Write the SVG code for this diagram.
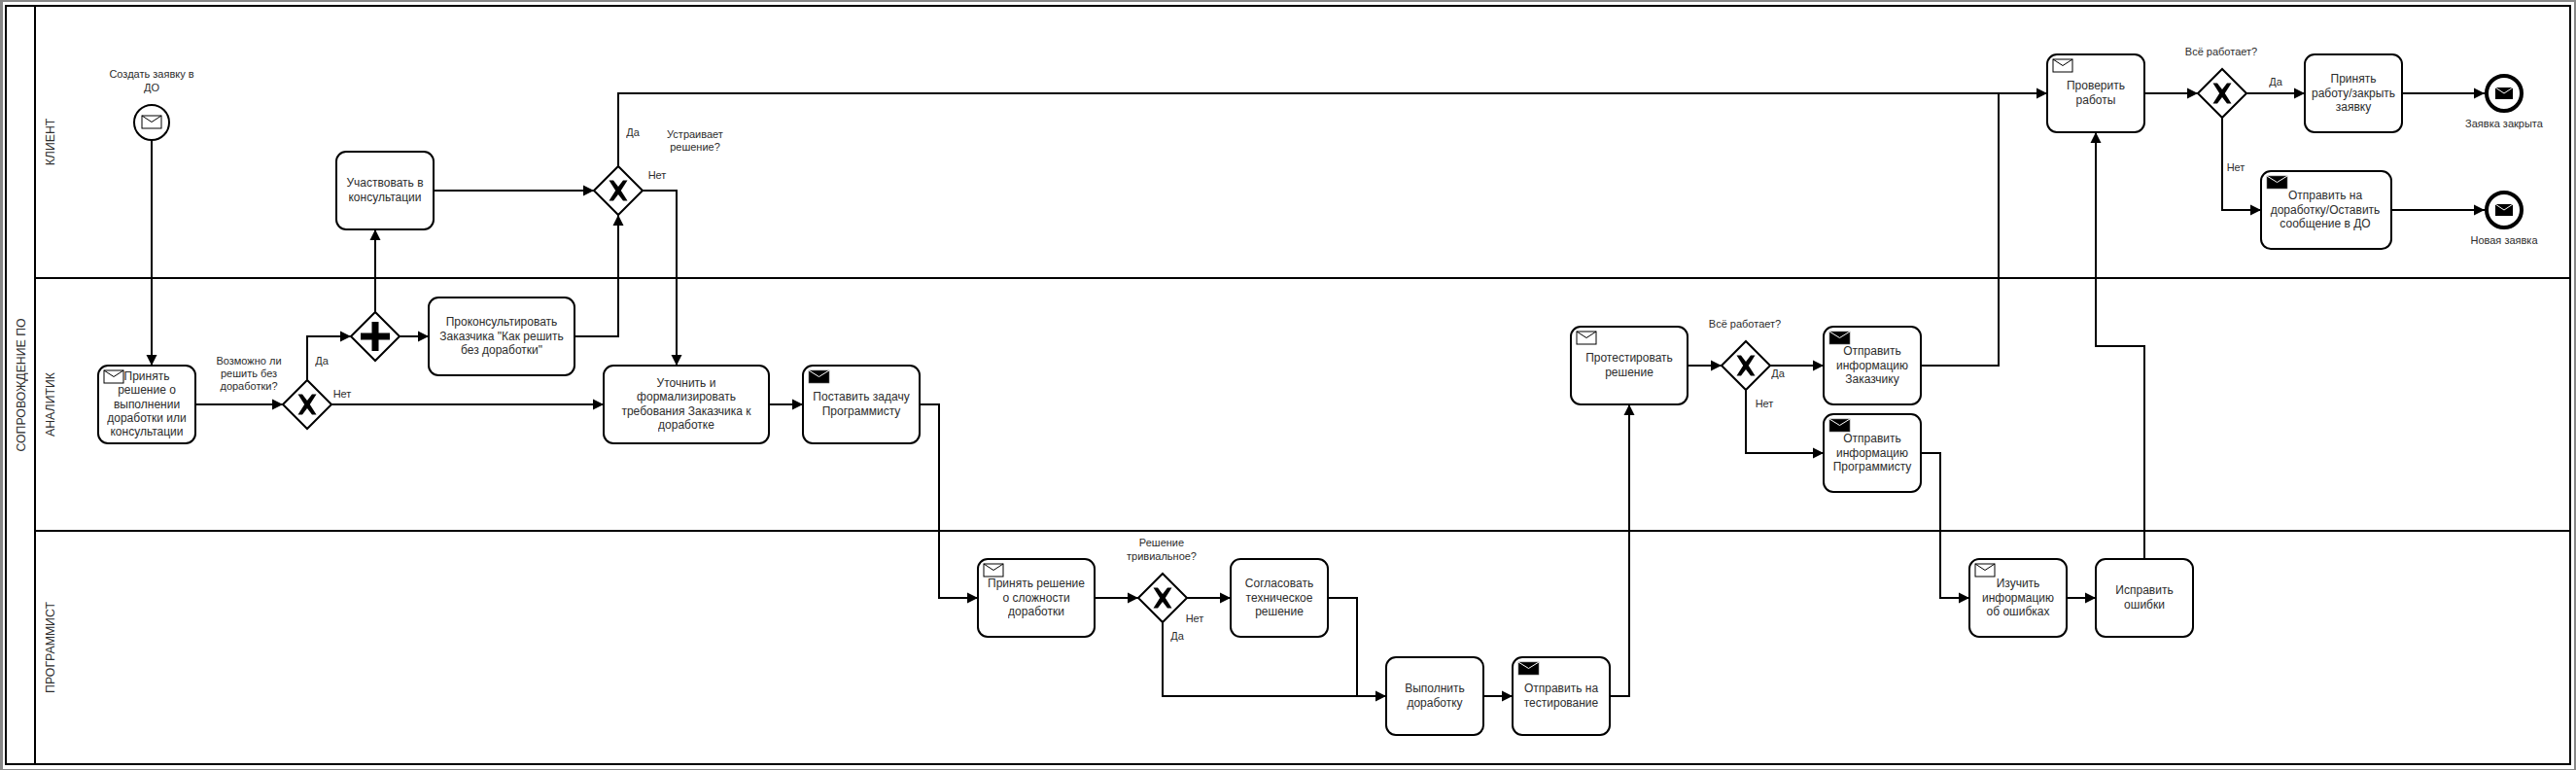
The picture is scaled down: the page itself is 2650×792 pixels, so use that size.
<svg xmlns="http://www.w3.org/2000/svg" width="2650" height="792" viewBox="0 0 2650 792">
<style>
text{font-family:"Liberation Sans",Arial,sans-serif;fill:#2a2a2a;text-anchor:middle;opacity:.99}
.t{font-size:12px}.l{font-size:11px}.h{font-size:12.300px}
.f{fill:none;stroke:#000;stroke-width:2}
.n{fill:#fff;stroke:#000;stroke-width:2}
.c{fill:none;stroke:#000;stroke-width:2;marker-end:url(#a)}
.p{fill:none;stroke:#000;stroke-width:2}
</style>
<defs>
<marker id="a" markerUnits="userSpaceOnUse" markerWidth="12" markerHeight="12" refX="11" refY="6" orient="auto"><path d="M0 0.500L11 6L0 11.500Z" fill="#000"/></marker>
<g id="env"><rect x="0" y="0" width="20" height="13" fill="#fff" stroke="#000"/><path d="M0 0L10 6.500L20 0" fill="none" stroke="#000"/></g>
<g id="envb"><rect x="0" y="0" width="21" height="13" fill="#000" stroke="#666" stroke-width=".6"/><path d="M0 0L10.500 6.500L21 0" fill="none" stroke="#fff"/></g>
<g id="enve"><rect x="0" y="0" width="18" height="12" fill="#000"/><path d="M0 0L9 6L18 0" fill="none" stroke="#fff"/></g>
<path id="x" d="M-9.500 -10.500L-5 -10.500L0 -4L5 -10.500L9.500 -10.500L2.800 0L9.500 10.500L5 10.500L0 4L-5 10.500L-9.500 10.500L-2.800 0Z" fill="#000"/>
<path id="dia" d="M-25 0L0 -25L25 0L0 25Z" fill="#fff" stroke="#000" stroke-width="2"/>
</defs>
<rect x="0" y="0" width="2650" height="792" fill="#888"/>
<rect x="3" y="2" width="2645" height="789" fill="#fff"/>
<g id="pool" class="f">
<rect x="6" y="6" width="2638" height="780"/>
<path d="M36 6V786M36 286H2644M36 546H2644"/>
</g>
<g id="pool-labels">
<text class="h" transform="translate(26,396) rotate(-90)">СОПРОВОЖДЕНИЕ ПО</text>
<text class="h" transform="translate(56,146) rotate(-90)">КЛИЕНТ</text>
<text class="h" transform="translate(56,416) rotate(-90)">АНАЛИТИК</text>
<text class="h" transform="translate(56,666) rotate(-90)">ПРОГРАММИСТ</text>
</g>
<g id="connectors">
<path class="c" d="M156 144V376"/>
<path class="c" d="M201 416H291"/>
<path class="c" d="M316 391V346H361"/>
<path class="c" d="M341 416H621"/>
<path class="c" d="M386 321V236"/>
<path class="c" d="M411 346H441"/>
<path class="c" d="M446 196H611"/>
<path class="c" d="M591 346H636V221"/>
<path class="c" d="M636 171V96H2106"/>
<path class="c" d="M661 196H696V376"/>
<path class="c" d="M791 416H826"/>
<path class="c" d="M946 416H966V615H1006"/>
<path class="c" d="M1126 615H1171"/>
<path class="c" d="M1221 615H1266"/>
<path class="p" d="M1366 615H1396V716"/>
<path class="c" d="M1196 640V716H1426"/>
<path class="c" d="M1526 716H1556"/>
<path class="c" d="M1656 716H1676V416"/>
<path class="c" d="M1736 376H1771"/>
<path class="c" d="M1821 376H1876"/>
<path class="c" d="M1796 401V466H1876"/>
<path class="p" d="M1976 376H2056V96"/>
<path class="c" d="M1976 466H1996V615H2026"/>
<path class="c" d="M2126 615H2156"/>
<path class="c" d="M2206 575V356H2156V136"/>
<path class="c" d="M2206 96H2261"/>
<path class="c" d="M2311 96H2371"/>
<path class="c" d="M2286 121V216H2326"/>
<path class="c" d="M2471 96H2556"/>
<path class="c" d="M2460 216H2556"/>
</g>
<g id="start"><circle class="n" cx="156" cy="126" r="18"/><use href="#env" x="146" y="119"/><text class="l" x="156" y="80">Создать заявку в</text><text class="l" x="156" y="94">ДО</text></g>
<g id="t1"><rect class="n" x="101" y="376" width="100" height="80" rx="10"/><use href="#env" x="107" y="381"/><text class="t" x="151" y="391">Принять</text><text class="t" x="151" y="405">решение о</text><text class="t" x="151" y="420">выполнении</text><text class="t" x="151" y="434">доработки или</text><text class="t" x="151" y="448">консультации</text></g>
<g id="g1"><use href="#dia" x="316" y="416"/><use href="#x" x="316" y="416"/><text class="l" x="256" y="375">Возможно ли</text><text class="l" x="256" y="388">решить без</text><text class="l" x="256" y="401">доработки?</text></g>
<g id="g2"><use href="#dia" x="386" y="346"/><path d="M386 331V361M371 346H401" stroke="#000" stroke-width="7" fill="none"/></g>
<g id="t2"><rect class="n" x="346" y="156" width="100" height="80" rx="10"/><text class="t" x="396" y="192">Участвовать в</text><text class="t" x="396" y="207">консультации</text></g>
<g id="t3"><rect class="n" x="441" y="306" width="150" height="80" rx="10"/><text class="t" x="516" y="335">Проконсультировать</text><text class="t" x="516" y="350">Заказчика "Как решить</text><text class="t" x="516" y="364">без доработки"</text></g>
<g id="g3"><use href="#dia" x="636" y="196"/><use href="#x" x="636" y="196"/><text class="l" x="715" y="142">Устраивает</text><text class="l" x="715" y="155">решение?</text></g>
<g id="t4"><rect class="n" x="621" y="376" width="170" height="80" rx="10"/><text class="t" x="706" y="398">Уточнить и</text><text class="t" x="706" y="412">формализировать</text><text class="t" x="706" y="427">требования Заказчика к</text><text class="t" x="706" y="441">доработке</text></g>
<g id="t5"><rect class="n" x="826" y="376" width="120" height="80" rx="10"/><use href="#envb" x="832" y="381"/><text class="t" x="886" y="412">Поставить задачу</text><text class="t" x="886" y="427">Программисту</text></g>
<g id="t6"><rect class="n" x="1006" y="575" width="120" height="80" rx="10"/><use href="#env" x="1012" y="580"/><text class="t" x="1066" y="604">Принять решение</text><text class="t" x="1066" y="619">о сложности</text><text class="t" x="1066" y="633">доработки</text></g>
<g id="g4"><use href="#dia" x="1196" y="615"/><use href="#x" x="1196" y="615"/><text class="l" x="1195" y="562">Решение</text><text class="l" x="1195" y="576">тривиальное?</text></g>
<g id="t7"><rect class="n" x="1266" y="575" width="100" height="80" rx="10"/><text class="t" x="1316" y="604">Согласовать</text><text class="t" x="1316" y="619">техническое</text><text class="t" x="1316" y="633">решение</text></g>
<g id="t8"><rect class="n" x="1426" y="676" width="100" height="80" rx="10"/><text class="t" x="1476" y="712">Выполнить</text><text class="t" x="1476" y="727">доработку</text></g>
<g id="t9"><rect class="n" x="1556" y="676" width="100" height="80" rx="10"/><use href="#envb" x="1562" y="681"/><text class="t" x="1606" y="712">Отправить на</text><text class="t" x="1606" y="727">тестирование</text></g>
<g id="t10"><rect class="n" x="1616" y="336" width="120" height="80" rx="10"/><use href="#env" x="1622" y="341"/><text class="t" x="1676" y="372">Протестировать</text><text class="t" x="1676" y="387">решение</text></g>
<g id="g5"><use href="#dia" x="1796" y="376"/><use href="#x" x="1796" y="376"/><text class="l" x="1795" y="337">Всё работает?</text></g>
<g id="t11"><rect class="n" x="1876" y="336" width="100" height="80" rx="10"/><use href="#envb" x="1882" y="341"/><text class="t" x="1926" y="365">Отправить</text><text class="t" x="1926" y="380">информацию</text><text class="t" x="1926" y="394">Заказчику</text></g>
<g id="t12"><rect class="n" x="1876" y="426" width="100" height="80" rx="10"/><use href="#envb" x="1882" y="431"/><text class="t" x="1926" y="455">Отправить</text><text class="t" x="1926" y="470">информацию</text><text class="t" x="1926" y="484">Программисту</text></g>
<g id="t13"><rect class="n" x="2026" y="575" width="100" height="80" rx="10"/><use href="#env" x="2032" y="580"/><text class="t" x="2076" y="604">Изучить</text><text class="t" x="2076" y="619">информацию</text><text class="t" x="2076" y="633">об ошибках</text></g>
<g id="t14"><rect class="n" x="2156" y="575" width="100" height="80" rx="10"/><text class="t" x="2206" y="611">Исправить</text><text class="t" x="2206" y="626">ошибки</text></g>
<g id="t15"><rect class="n" x="2106" y="56" width="100" height="80" rx="10"/><use href="#env" x="2112" y="61"/><text class="t" x="2156" y="92">Проверить</text><text class="t" x="2156" y="107">работы</text></g>
<g id="g6"><use href="#dia" x="2286" y="96"/><use href="#x" x="2286" y="96"/><text class="l" x="2285" y="57">Всё работает?</text></g>
<g id="t16"><rect class="n" x="2371" y="56" width="100" height="80" rx="10"/><text class="t" x="2421" y="85">Принять</text><text class="t" x="2421" y="100">работу/закрыть</text><text class="t" x="2421" y="114">заявку</text></g>
<g id="t17"><rect class="n" x="2326" y="176" width="134" height="80" rx="10"/><use href="#envb" x="2332" y="181"/><text class="t" x="2392" y="205">Отправить на</text><text class="t" x="2392" y="220">доработку/Оставить</text><text class="t" x="2392" y="234">сообщение в ДО</text></g>
<g id="e1"><circle cx="2576" cy="96" r="18" fill="#fff" stroke="#000" stroke-width="4"/><use href="#enve" x="2567" y="90"/><text class="l" x="2576" y="131">Заявка закрыта</text></g>
<g id="e2"><circle cx="2576" cy="216" r="18" fill="#fff" stroke="#000" stroke-width="4"/><use href="#enve" x="2567" y="210"/><text class="l" x="2576" y="251">Новая заявка</text></g>
<g id="labels">
<text class="l" x="331" y="375">Да</text><text class="l" x="352" y="409">Нет</text>
<text class="l" x="651" y="140">Да</text><text class="l" x="676" y="184">Нет</text>
<text class="l" x="1229" y="640">Нет</text><text class="l" x="1211" y="658">Да</text>
<text class="l" x="1829" y="388">Да</text><text class="l" x="1815" y="419">Нет</text>
<text class="l" x="2341" y="88">Да</text><text class="l" x="2300" y="176">Нет</text>
</g>
</svg>
